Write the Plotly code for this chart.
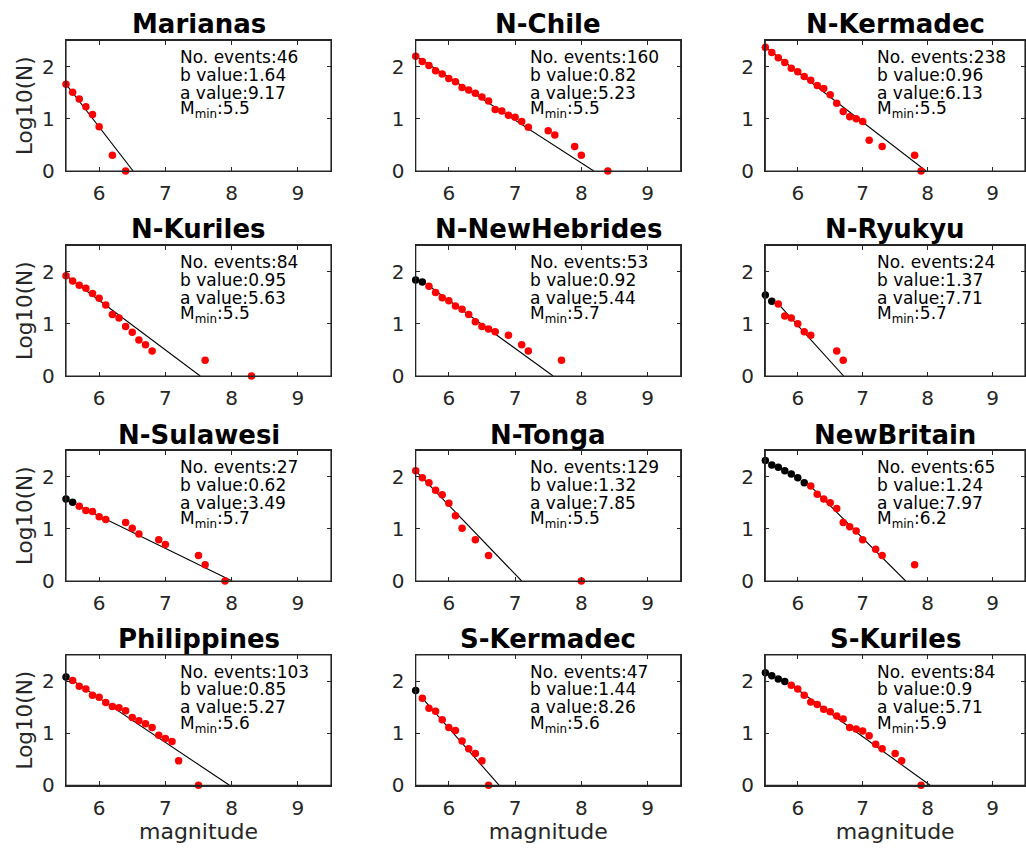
import math
import plotly.graph_objects as go

# ---------------- data ----------------
regions = ["Marianas", "N-Chile", "N-Kermadec",
           "N-Kuriles", "N-NewHebrides", "N-Ryukyu",
           "N-Sulawesi", "N-Tonga", "NewBritain",
           "Philippines", "S-Kermadec", "S-Kuriles"]

n_events = [46, 160, 238, 84, 53, 24, 27, 129, 65, 103, 47, 84]
b_values = [1.64, 0.82, 0.96, 0.95, 0.92, 1.37, 0.62, 1.32, 1.24, 0.85, 1.44, 0.9]
a_values = [9.17, 5.23, 6.13, 5.63, 5.44, 7.71, 3.49, 7.85, 7.97, 5.27, 8.26, 5.71]
m_min = [5.5, 5.5, 5.5, 5.5, 5.7, 5.7, 5.7, 5.5, 6.2, 5.6, 5.6, 5.9]

mag_marianas = [5.5, 5.6, 5.7, 5.8, 5.9, 6.0, 6.2, 6.4]
log_marianas = [1.66, 1.51, 1.38, 1.23, 1.08, 0.85, 0.30, 0.0]

mag_nchile = [5.5, 5.6, 5.7, 5.8, 5.9, 6.0, 6.1, 6.2, 6.3, 6.4, 6.5, 6.6, 6.7, 6.8,
              6.9, 7.0, 7.1, 7.2, 7.5, 7.6, 7.9, 8.0, 8.4]
log_nchile = [2.20, 2.10, 2.02, 1.92, 1.86, 1.77, 1.71, 1.60, 1.55, 1.49, 1.42, 1.34,
              1.18, 1.15, 1.07, 1.03, 0.95, 0.84, 0.77, 0.69, 0.47, 0.30, 0.0]

mag_nkermadec = [5.5, 5.6, 5.7, 5.8, 5.9, 6.0, 6.1, 6.2, 6.3, 6.4, 6.5, 6.6, 6.7, 6.8,
                 6.9, 7.0, 7.1, 7.3, 7.8, 7.9]
log_nkermadec = [2.37, 2.27, 2.17, 2.08, 1.97, 1.90, 1.81, 1.74, 1.64, 1.58, 1.46, 1.30,
                 1.14, 1.04, 1.00, 0.95, 0.59, 0.47, 0.30, 0.0]

mag_nkuriles = [5.5, 5.6, 5.7, 5.8, 5.9, 6.0, 6.1, 6.2, 6.3, 6.4, 6.5, 6.6, 6.7, 6.8, 7.6, 8.3]
log_nkuriles = [1.92, 1.82, 1.74, 1.68, 1.58, 1.49, 1.36, 1.18, 1.11, 0.95, 0.84, 0.69,
                0.60, 0.48, 0.30, 0.0]

mag_nnewhebrides = [5.5, 5.6, 5.7, 5.8, 5.9, 6.0, 6.1, 6.2, 6.3, 6.4, 6.5, 6.6, 6.7,
                    6.9, 7.1, 7.2, 7.7]
log_nnewhebrides = [1.84, 1.80, 1.72, 1.60, 1.50, 1.44, 1.34, 1.28, 1.18, 1.04, 0.95,
                    0.90, 0.85, 0.78, 0.60, 0.48, 0.30]

mag_nryukyu = [5.5, 5.6, 5.7, 5.8, 5.9, 6.0, 6.1, 6.2, 6.6, 6.7]
log_nryukyu = [1.55, 1.43, 1.38, 1.15, 1.11, 1.00, 0.85, 0.78, 0.48, 0.30]

mag_nsulawesi = [5.5, 5.6, 5.7, 5.8, 5.9, 6.0, 6.1, 6.4, 6.5, 6.6, 6.9, 7.0, 7.5, 7.6, 7.9]
log_nsulawesi = [1.57, 1.51, 1.43, 1.35, 1.33, 1.23, 1.18, 1.12, 1.01, 0.90, 0.79, 0.70,
                 0.49, 0.31, 0.0]

mag_ntonga = [5.5, 5.6, 5.7, 5.8, 5.9, 6.0, 6.1, 6.2, 6.4, 6.6, 8.0]
log_ntonga = [2.11, 1.98, 1.88, 1.74, 1.65, 1.49, 1.25, 1.01, 0.79, 0.49, 0.0]

mag_newbritain = [5.5, 5.6, 5.7, 5.8, 5.9, 6.0, 6.1, 6.2, 6.3, 6.4, 6.5, 6.6, 6.7, 6.8,
                  6.9, 7.0, 7.2, 7.3, 7.8]
log_newbritain = [2.31, 2.22, 2.18, 2.11, 2.05, 1.98, 1.88, 1.82, 1.66, 1.57, 1.50, 1.39,
                  1.12, 1.04, 0.96, 0.79, 0.61, 0.49, 0.31]

mag_philippines = [5.5, 5.6, 5.7, 5.8, 5.9, 6.0, 6.1, 6.2, 6.3, 6.4, 6.5, 6.6, 6.7, 6.8,
                   6.9, 7.0, 7.1, 7.2, 7.5]
log_philippines = [2.08, 2.01, 1.90, 1.85, 1.73, 1.69, 1.59, 1.51, 1.49, 1.43, 1.30, 1.24,
                   1.18, 1.11, 0.96, 0.90, 0.84, 0.47, 0.0]

mag_skermadec = [5.5, 5.6, 5.7, 5.8, 5.9, 6.0, 6.1, 6.2, 6.3, 6.4, 6.5, 6.6]
log_skermadec = [1.82, 1.67, 1.48, 1.42, 1.26, 1.11, 1.05, 0.85, 0.70, 0.61, 0.47, 0.0]

mag_skuriles = [5.5, 5.6, 5.7, 5.8, 5.9, 6.0, 6.1, 6.2, 6.3, 6.4, 6.5, 6.6, 6.7, 6.8,
                6.9, 7.0, 7.1, 7.2, 7.3, 7.5, 7.6, 7.9]
log_skuriles = [2.16, 2.10, 2.04, 1.99, 1.92, 1.85, 1.73, 1.60, 1.55, 1.46, 1.41, 1.33,
                1.27, 1.11, 1.08, 1.04, 0.95, 0.79, 0.70, 0.61, 0.47, 0.0]

mags = [mag_marianas, mag_nchile, mag_nkermadec, mag_nkuriles, mag_nnewhebrides,
        mag_nryukyu, mag_nsulawesi, mag_ntonga, mag_newbritain, mag_philippines,
        mag_skermadec, mag_skuriles]
logs = [log_marianas, log_nchile, log_nkermadec, log_nkuriles, log_nnewhebrides,
        log_nryukyu, log_nsulawesi, log_ntonga, log_newbritain, log_philippines,
        log_skermadec, log_skuriles]

x_ticks = [6, 7, 8, 9]
y_ticks = [0, 1, 2]

# ---------------- layout geometry (pixels) ----------------
W, H = 1026, 848
col_px = [(66, 331), (415.7, 680.7), (765.3, 1025)]
row_px = [(40.5, 171), (245.5, 376), (450.5, 581), (655, 785.3)]

FONT = "DejaVu Sans"
AX_COLOR = "#262626"

fig = go.Figure()
annotations = []
shapes = []
layout_axes = {}

for i, name in enumerate(regions):
    r, c = divmod(i, 3)
    k = i + 1
    xs = "" if k == 1 else str(k)
    xref, yref = "x" + xs, "y" + xs
    x0, x1 = col_px[c]
    y0, y1 = row_px[r]

    mm = m_min[i]
    mx, ly = mags[i], logs[i]
    colors = ["black" if m < mm - 1e-9 else "red" for m in mx]

    # fit line: log10(N) = log10(Ntot) - b (M - Mmin)
    top = math.log10(n_events[i])
    x_end = mm + top / b_values[i]
    fig.add_trace(go.Scatter(
        x=[mm, x_end], y=[top, 0], mode="lines",
        line=dict(color="black", width=1.1),
        xaxis=xref, yaxis=yref, showlegend=False, hoverinfo="skip"))
    fig.add_trace(go.Scatter(
        x=mx, y=ly, mode="markers",
        marker=dict(color=colors, size=7.5, line=dict(width=0)),
        xaxis=xref, yaxis=yref, showlegend=False, cliponaxis=False))

    common = dict(showgrid=False, zeroline=False, showline=True, linecolor=AX_COLOR,
                  linewidth=1.2, mirror="ticks", ticks="inside", ticklen=4,
                  tickcolor=AX_COLOR, tickwidth=1, automargin=False,
                  tickfont=dict(family=FONT, size=20, color=AX_COLOR))
    xa = dict(common, domain=[x0 / W, x1 / W], range=[5.5, 9.5], tickvals=x_ticks,
              anchor=yref, ticklabelstandoff=4)
    if r == 3:
        xa["title"] = dict(text="magnitude",
                           font=dict(family=FONT, size=22, color=AX_COLOR), standoff=4)
    ya = dict(common, domain=[1 - y1 / H, 1 - y0 / H], range=[0, 2.5], tickvals=y_ticks,
              anchor=xref, ticklabelstandoff=6)
    if c == 0:
        ya["title"] = dict(text="Log10(N)",
                           font=dict(family=FONT, size=21.5, color=AX_COLOR), standoff=3)
    layout_axes["xaxis" + xs] = xa
    layout_axes["yaxis" + xs] = ya

    shapes.append(dict(type="rect", xref=xref + " domain", yref=yref + " domain",
                       x0=0, x1=1, y0=0, y1=1, line=dict(color=AX_COLOR, width=1.2),
                       layer="above"))

    # title
    annotations.append(dict(
        text="<b>%s</b>" % name, x=(x0 + x1) / 2 / W, y=1 - (y0 - 16) / H,
        xref="paper", yref="paper", showarrow=False,
        font=dict(family=FONT, size=26, color="black"),
        xanchor="center", yanchor="middle"))

    lines = ["No. events:%d" % n_events[i],
             "b value:%s" % ("%g" % b_values[i]),
             "a value:%s" % ("%.2f" % a_values[i]),
             "M<sub>min</sub>:%g" % mm]
    ypos = [2.18, 1.84, 1.50, 1.17]
    for t, yy in zip(lines, ypos):
        annotations.append(dict(
            text=t, x=7.19, y=yy, xref=xref, yref=yref, showarrow=False,
            xanchor="left", yanchor="middle",
            font=dict(family=FONT, size=17, color="black")))

fig.update_layout(
    width=W, height=H, margin=dict(l=0, r=0, t=0, b=0, autoexpand=False),
    paper_bgcolor="white", plot_bgcolor="white", hovermode=False,
    annotations=annotations, shapes=shapes, **layout_axes)

fig.write_html("out.html",
               config={"displayModeBar": False, "staticPlot": True},
               post_script="document.body.style.margin='0px';"
                           "document.body.style.overflow='hidden';")
